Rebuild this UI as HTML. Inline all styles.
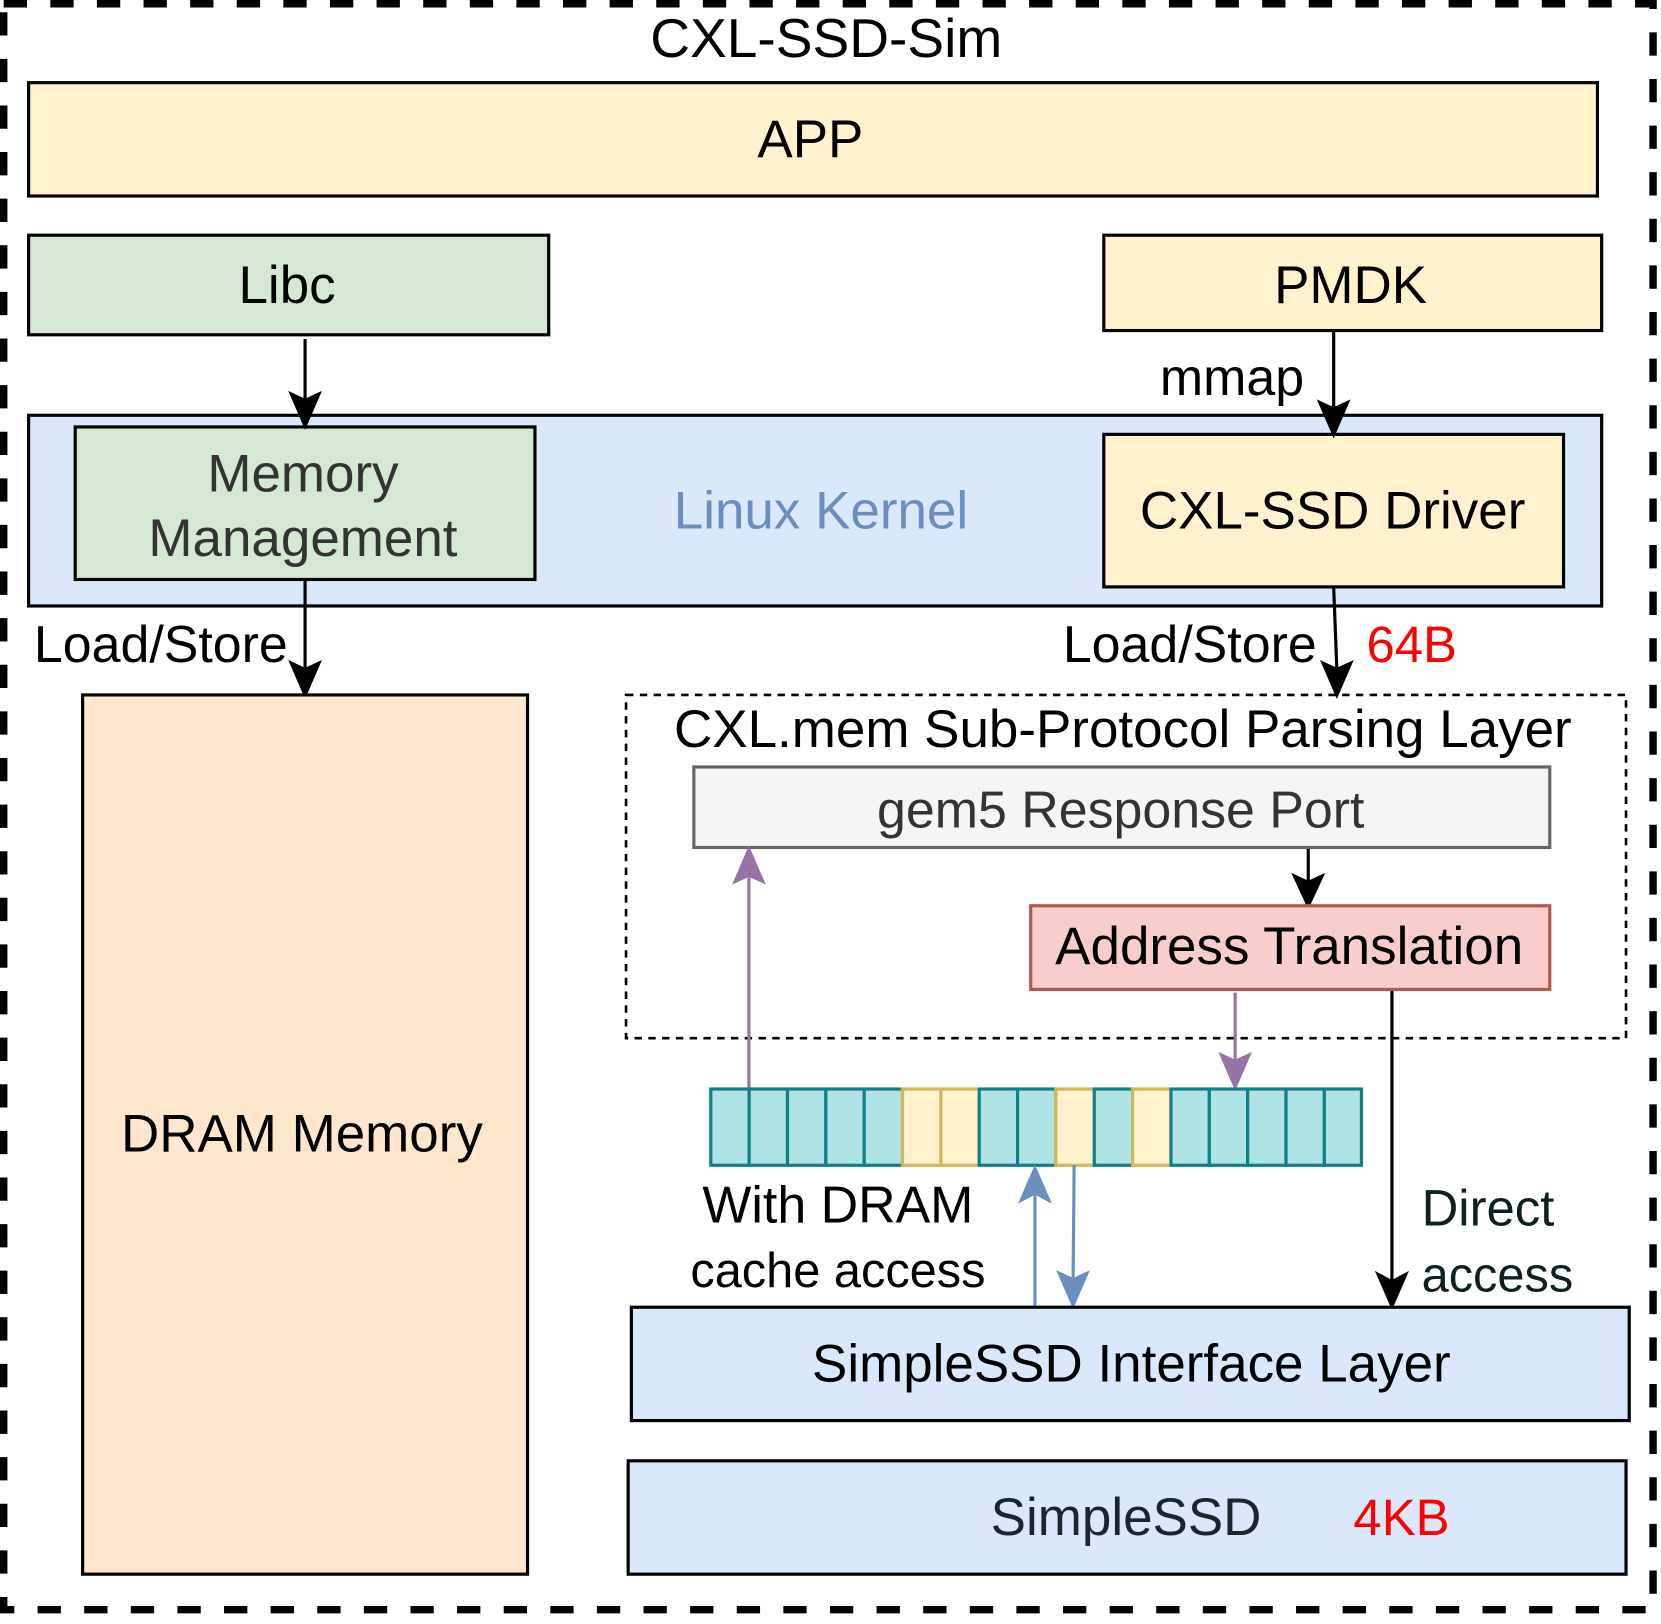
<!DOCTYPE html>
<html><head><meta charset="utf-8"><style>html,body{margin:0;padding:0;background:#fff}svg{display:block}text{font-family:"Liberation Sans",sans-serif}</style></head>
<body>
<svg width="1661" height="1624" viewBox="0 0 1568 1533" xmlns="http://www.w3.org/2000/svg">
<rect x="3.5" y="3.5" width="1557" height="1516" fill="none" stroke="#000" stroke-width="7" stroke-dasharray="22 22"/>
<text x="780" y="54" font-size="52" text-anchor="middle">CXL-SSD-Sim</text>
<rect x="27" y="78" width="1481" height="107" fill="#fff2cc" stroke="#000" stroke-width="3"/>
<text x="765" y="148" font-size="50" text-anchor="middle">APP</text>
<rect x="27" y="222" width="491" height="94" fill="#d5e8d4" stroke="#000" stroke-width="3"/>
<text x="271" y="286" font-size="50" text-anchor="middle">Libc</text>
<rect x="1042" y="222" width="470" height="90" fill="#fff2cc" stroke="#000" stroke-width="3"/>
<text x="1275" y="286" font-size="50" text-anchor="middle">PMDK</text>
<rect x="27" y="392" width="1485" height="180" fill="#dae8fc" stroke="#000" stroke-width="3"/>
<text x="775" y="499" font-size="50" text-anchor="middle" fill="#6c8ebf">Linux Kernel</text>
<rect x="71" y="403" width="434" height="144" fill="#d5e8d4" stroke="#000" stroke-width="3"/>
<text x="286" y="464" font-size="50" text-anchor="middle" fill="#333">Memory</text>
<text x="286" y="525" font-size="50" text-anchor="middle" fill="#333">Management</text>
<rect x="1042" y="410" width="434" height="144" fill="#fff2cc" stroke="#000" stroke-width="3"/>
<text x="1258" y="499" font-size="50" text-anchor="middle">CXL-SSD Driver</text>
<g stroke="#000" stroke-width="3" fill="#000">
<line x1="288" y1="320" x2="288" y2="378"/><path d="M275,372 L288,402 L301,372 L288,378 Z"/>
<line x1="1259" y1="312" x2="1259" y2="386"/><path d="M1246,380 L1259,410 L1272,380 L1259,386 Z"/>
<line x1="288" y1="547" x2="288" y2="632"/><path d="M275,626 L288,656 L301,626 L288,632 Z"/>
<line x1="1259" y1="554" x2="1262" y2="632"/><path d="M1249,626 L1262,656 L1275,626 L1262,632 Z"/>
<line x1="1235" y1="800" x2="1235" y2="833"/><path d="M1222,827 L1235,855 L1248,827 L1235,833 Z"/>
<line x1="1314" y1="934" x2="1314" y2="1210"/><path d="M1301,1203 L1314,1233 L1327,1203 L1314,1210 Z"/>
</g>
<text x="1163" y="373" font-size="49" text-anchor="middle">mmap</text>
<text x="32" y="625" font-size="49">Load/Store</text>
<text x="1243" y="625" font-size="49" text-anchor="end">Load/Store</text>
<text x="1290" y="625" font-size="48" fill="#ff0000">64B</text>
<rect x="78" y="656" width="420" height="830" fill="#ffe6cc" stroke="#000" stroke-width="3"/>
<text x="285" y="1087" font-size="50" text-anchor="middle">DRAM Memory</text>
<rect x="591" y="656" width="944" height="324" fill="none" stroke="#000" stroke-width="2.5" stroke-dasharray="7 6"/>
<text x="1060" y="705" font-size="50" text-anchor="middle">CXL.mem Sub-Protocol Parsing Layer</text>
<rect x="655" y="724" width="808" height="76" fill="#f5f5f5" stroke="#666" stroke-width="3"/>
<text x="1058" y="781" font-size="49" text-anchor="middle" fill="#333">gem5 Response Port</text>
<rect x="973" y="855" width="490" height="79" fill="#f8cecc" stroke="#b85450" stroke-width="3"/>
<text x="1217" y="910" font-size="50" text-anchor="middle">Address Translation</text>
<g stroke="#9673a6" stroke-width="3" fill="#9673a6">
<line x1="707" y1="1027" x2="707" y2="826"/><path d="M694,832 L707,802 L720,832 L707,826 Z"/>
<line x1="1166" y1="937" x2="1166" y2="1002"/><path d="M1153,996 L1166,1026 L1179,996 L1166,1002 Z"/>
</g>
<g stroke-width="3">
<rect x="671" y="1028" width="36.2" height="72" fill="#b0e3e6" stroke="#0e8088"/>
<rect x="707.2" y="1028" width="36.2" height="72" fill="#b0e3e6" stroke="#0e8088"/>
<rect x="743.4" y="1028" width="36.2" height="72" fill="#b0e3e6" stroke="#0e8088"/>
<rect x="779.6" y="1028" width="36.2" height="72" fill="#b0e3e6" stroke="#0e8088"/>
<rect x="815.8" y="1028" width="36.2" height="72" fill="#b0e3e6" stroke="#0e8088"/>
<rect x="852" y="1028" width="36.2" height="72" fill="#fff2cc" stroke="#d6b656"/>
<rect x="888.2" y="1028" width="36.2" height="72" fill="#fff2cc" stroke="#d6b656"/>
<rect x="924.4" y="1028" width="36.2" height="72" fill="#b0e3e6" stroke="#0e8088"/>
<rect x="960.6" y="1028" width="36.2" height="72" fill="#b0e3e6" stroke="#0e8088"/>
<rect x="996.8" y="1028" width="36.2" height="72" fill="#fff2cc" stroke="#d6b656"/>
<rect x="1033" y="1028" width="36.2" height="72" fill="#b0e3e6" stroke="#0e8088"/>
<rect x="1069.2" y="1028" width="36.2" height="72" fill="#fff2cc" stroke="#d6b656"/>
<rect x="1105.4" y="1028" width="36.2" height="72" fill="#b0e3e6" stroke="#0e8088"/>
<rect x="1141.6" y="1028" width="36.2" height="72" fill="#b0e3e6" stroke="#0e8088"/>
<rect x="1177.8" y="1028" width="36.2" height="72" fill="#b0e3e6" stroke="#0e8088"/>
<rect x="1214" y="1028" width="36.2" height="72" fill="#b0e3e6" stroke="#0e8088"/>
<rect x="1250.2" y="1028" width="35" height="72" fill="#b0e3e6" stroke="#0e8088"/>
</g>
<g stroke="#6c8ebf" stroke-width="3" fill="#6c8ebf">
<line x1="977" y1="1233" x2="977" y2="1126"/><path d="M964,1133 L977,1103 L990,1133 L977,1126 Z"/>
<line x1="1014" y1="1100" x2="1013" y2="1208"/><path d="M1000,1202 L1013,1232 L1026,1202 L1013,1208 Z"/>
</g>
<text x="791" y="1154" font-size="49" text-anchor="middle">With DRAM</text>
<text x="791" y="1215" font-size="46" text-anchor="middle">cache access</text>
<text x="1342" y="1157" font-size="48" fill="#0f2020">Direct</text>
<text x="1342" y="1219" font-size="46" fill="#0f2020">access</text>
<rect x="596" y="1234" width="942" height="107" fill="#dae8fc" stroke="#000" stroke-width="3"/>
<text x="1068" y="1304" font-size="50" text-anchor="middle">SimpleSSD Interface Layer</text>
<rect x="593" y="1379" width="942" height="107" fill="#dae8fc" stroke="#000" stroke-width="3"/>
<text x="1063" y="1449" font-size="50" text-anchor="middle" fill="#1a2530">SimpleSSD</text>
<text x="1323" y="1449" font-size="48" text-anchor="middle" fill="#ff0000">4KB</text>
</svg>
</body></html>
